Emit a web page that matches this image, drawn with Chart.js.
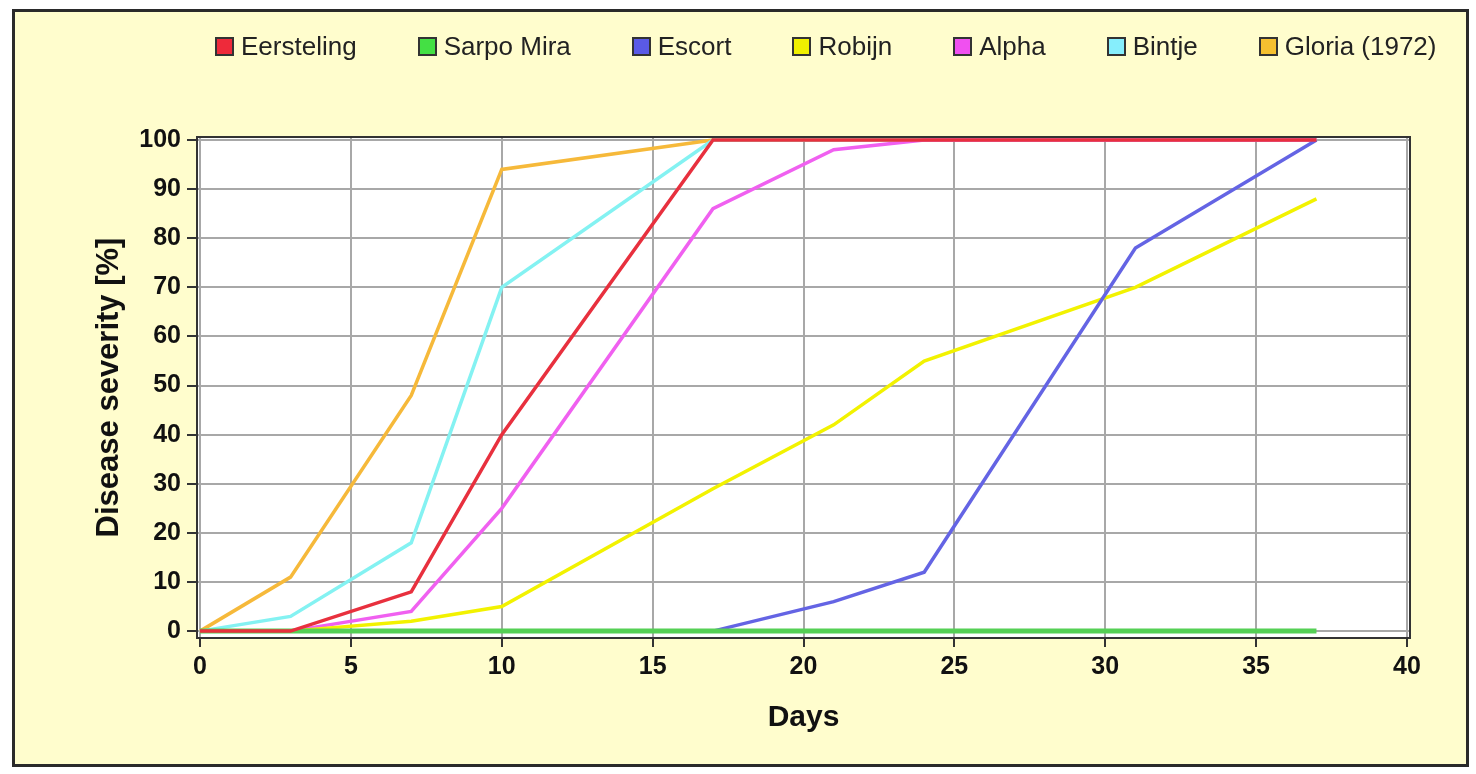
<!DOCTYPE html>
<html>
<head>
<meta charset="utf-8">
<script src="https://cdn.jsdelivr.net/npm/chart.js@4.4.0/dist/chart.umd.min.js"></script>
<style>
	html, body { margin: 0; padding: 0; background: #fff; }
	#frame { position: absolute; left: 12px; top: 9px; width: 1451px; height: 752px; border: 3px solid #2a2a2a; background: #fffdcd; }
	#wrap { position: absolute; left: 0; top: 0; width: 1476px; height: 774px; }
	#legend { position: absolute; left: 215px; top: 31px; display: flex; align-items: center; font-family: "Liberation Sans", Arial, sans-serif; font-size: 26px; color: #222; }
	.item { display: flex; align-items: center; margin-right: 61px; }
	.item:last-child { margin-right: 0; }
	.box { width: 15px; height: 15px; border: 2px solid #333; margin-right: 7px; }
</style>
</head>
<body>
<div id="frame"></div>
<div id="wrap"><canvas id="lineChart" width="1476" height="774"></canvas></div>
<div id="legend"></div>
<script>
// dias de evaluacion
const days = [0, 3, 7, 10, 17, 21, 24, 31, 37];

const eersteling = [0, 0, 8, 40, 100, 100, 100, 100, 100];
const sarpoMira  = [0, 0, 0, 0, 0, 0, 0, 0, 0];
const escort     = [0, 0, 0, 0, 0, 6, 12, 78, 100];
const robijn     = [0, 0, 2, 5, 29, 42, 55, 70, 88];
const alpha      = [0, 0, 4, 25, 86, 98, 100, 100, 100];
const bintje     = [0, 3, 18, 70, 100, 100, 100, 100, 100];
const gloria     = [0, 11, 48, 94, 100, 100, 100, 100, 100];

const seriesNames = ["Eersteling", "Sarpo Mira", "Escort", "Robijn", "Alpha", "Bintje", "Gloria (1972)"];
const seriesValues = [eersteling, sarpoMira, escort, robijn, alpha, bintje, gloria];

const xTicks = [0, 5, 10, 15, 20, 25, 30, 35, 40];
const yTicks = [0, 10, 20, 30, 40, 50, 60, 70, 80, 90, 100];

const colores = ["#e8303e", "#55d055", "#6464e4", "#f2f200", "#f060f0", "#84f2f2", "#f6b93a"];
const coloresLeyenda = ["#ee2a3a", "#44e044", "#5a5ae6", "#f0f000", "#f050f0", "#86eefc", "#f5c030"];

const tickFont = { family: "'Liberation Sans', Arial, sans-serif", size: 25, weight: "bold" };

// fondo blanco y marco del area de trazado
const plotFrame = {
	id: "plotFrame",
	beforeDraw(chart) {
		const { ctx, chartArea: a } = chart;
		ctx.save();
		ctx.fillStyle = "#ffffff";
		ctx.fillRect(a.left, a.top, a.right - a.left, a.bottom - a.top);
		ctx.restore();
	},
	afterDatasetsDraw(chart) {
		const { ctx, chartArea: a } = chart;
		ctx.save();
		ctx.strokeStyle = "#333";
		ctx.lineWidth = 2;
		ctx.strokeRect(a.left, a.top, a.right - a.left, a.bottom - a.top);
		ctx.restore();
	}
};

const datasets = seriesNames.map((name, i) => ({
	label: name,
	data: days.map((d, j) => ({ x: d, y: seriesValues[i][j] })),
	borderColor: colores[i],
	backgroundColor: colores[i],
	borderWidth: name === "Sarpo Mira" ? 5 : 3.5,
	pointRadius: 0,
	tension: 0,
	fill: false
}));

const ctx = document.getElementById("lineChart").getContext("2d");
const chart = new Chart(ctx, {
	type: "line",
	data: { datasets: datasets },
	plugins: [plotFrame],
	options: {
		responsive: false,
		animation: false,
		layout: { padding: { left: 80, top: 137, right: 66, bottom: 10 } },
		plugins: {
			legend: { display: false },
			tooltip: { enabled: false }
		},
		scales: {
			x: {
				type: "linear",
				min: -0.1,
				max: 40.1,
				afterBuildTicks: scale => { scale.ticks = xTicks.map(v => ({ value: v })); },
				afterFit: scale => { scale.height = 126; },
				ticks: { font: tickFont, color: "#111", padding: 5, maxRotation: 0 },
				grid: { color: "#a8a8a8", lineWidth: 2, tickColor: "#333", tickLength: 9 },
				border: { color: "#333", width: 2 },
				title: {
					display: true,
					text: "Days",
					color: "#111",
					font: { family: "'Liberation Sans', Arial, sans-serif", size: 30, weight: "bold" },
					padding: { top: 0, bottom: 28 }
				}
			},
			y: {
				min: -1.4,
				max: 100.6,
				afterBuildTicks: scale => { scale.ticks = yTicks.map(v => ({ value: v })); },
				afterFit: scale => { scale.width = 117; },
				ticks: { font: tickFont, color: "#111", padding: 6 },
				grid: { color: "#a8a8a8", lineWidth: 2, tickColor: "#333", tickLength: 10 },
				border: { color: "#333", width: 2 },
				title: {
					display: true,
					text: "Disease severity [%]",
					color: "#111",
					font: { family: "'Liberation Sans', Arial, sans-serif", size: 31, weight: "bold" },
					padding: { top: 11, bottom: 0 }
				}
			}
		}
	}
});

// leyenda en HTML a partir de los datasets
const leyenda = document.getElementById("legend");
chart.data.datasets.forEach((ds, i) => {
	const item = document.createElement("div");
	item.className = "item";
	const box = document.createElement("span");
	box.className = "box";
	box.style.background = coloresLeyenda[i];
	const txt = document.createElement("span");
	txt.textContent = ds.label;
	item.appendChild(box);
	item.appendChild(txt);
	leyenda.appendChild(item);
});
</script>
</body>
</html>
